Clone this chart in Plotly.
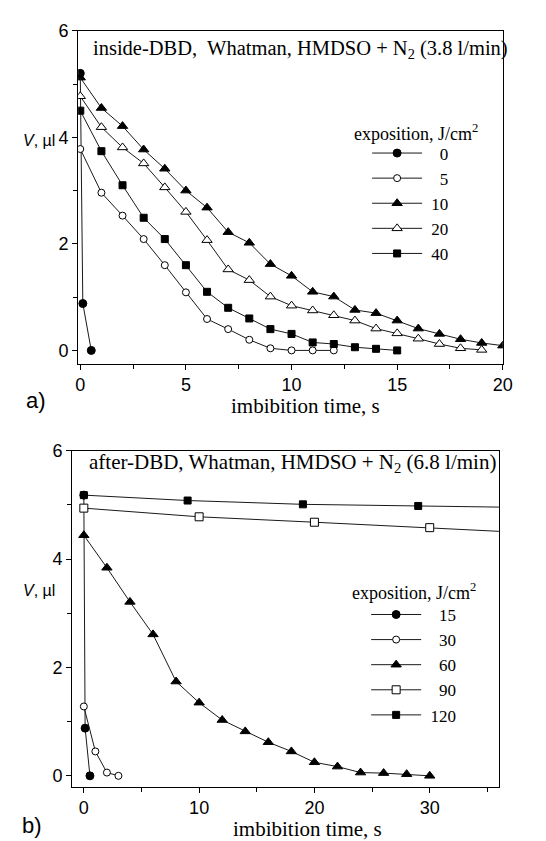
import plotly.graph_objects as go

# ---- panel a) inside-DBD, HMDSO + N2 (3.8 l/min) ----
a_names = ["0", "5", "10", "20", "40"]
a0_t = [0, 0.12, 0.52]
a0_v = [5.2, 0.88, 0.0]
a5_t = [0, 1, 2, 3, 4, 5, 6, 7, 8, 9, 10, 11, 12]
a5_v = [3.78, 2.96, 2.53, 2.09, 1.6, 1.09, 0.59, 0.40, 0.20, 0.04, 0.0, 0.0, 0.0]
a10_t = list(range(0, 21))
a10_v = [5.12, 4.55, 4.21, 3.77, 3.41, 3.0, 2.68, 2.22, 2.02, 1.62, 1.40,
         1.1, 1.01, 0.76, 0.70, 0.56, 0.41, 0.31, 0.21, 0.14, 0.09]
a20_t = list(range(0, 20))
a20_v = [4.77, 4.19, 3.81, 3.51, 3.06, 2.6, 2.07, 1.52, 1.32, 1.01, 0.84,
         0.75, 0.66, 0.56, 0.41, 0.32, 0.22, 0.12, 0.04, 0.01]
a40_t = list(range(0, 16))
a40_v = [4.5, 3.74, 3.1, 2.49, 2.09, 1.6, 1.1, 0.8, 0.6, 0.4, 0.31, 0.15,
         0.12, 0.06, 0.03, 0.0]

# ---- panel b) after-DBD, HMDSO + N2 (6.8 l/min) ----
b_names = ["15", "30", "60", "90", "120"]
b15_t = [0, 0.11, 0.53]
b15_v = [5.18, 0.88, 0.0]
b30_t = [0, 1, 2, 3]
b30_v = [1.28, 0.45, 0.06, 0.0]
b60_t = [0, 2, 4, 6, 8, 10, 12, 14, 16, 18, 20, 22, 24, 26, 28, 30]
b60_v = [4.44, 3.84, 3.21, 2.61, 1.74, 1.35, 1.03, 0.82, 0.62, 0.45, 0.25,
         0.17, 0.06, 0.05, 0.03, 0.0]
b90_t = [0, 10, 20, 30, 40]
b90_v = [4.94, 4.78, 4.68, 4.58, 4.47]
b120_t = [0, 9, 19, 29, 39]
b120_v = [5.18, 5.08, 5.01, 4.98, 4.95]

W, H = 546, 841
SERIF = "Liberation Serif, Times New Roman, serif"
SANS = "Liberation Sans, Arial, sans-serif"
LINE = "#1a1a1a"

def px(x):
    return x / W

def py(y):
    return 1 - y / H

# marker styles: (symbol, fill, size)
styles = {
    "circle_f": ("circle", "black", 8),
    "circle_o": ("circle", "white", 7),
    "tri_f": ("triangle-up", "black", 9),
    "tri_o": ("triangle-up", "white", 9),
    "sq_f": ("square", "black", 7),
    "sq_o": ("square", "white", 8),
}

fig = go.Figure()

def add(t, v, name, style, xa, ya, leg, rank):
    sym, fill, size = styles[style]
    fig.add_trace(go.Scatter(
        x=t, y=v, name=name, mode="lines+markers",
        line=dict(color=LINE, width=1),
        marker=dict(symbol=sym, color=fill, size=size,
                    line=dict(color="black", width=1)),
        xaxis=xa, yaxis=ya, legend=leg, legendrank=rank,
    ))

fs = "\u2007"   # figure space keeps the legend numbers right-aligned
sp = "\u00a0"

# panel a traces (drawing order chosen so overlapping markers stack correctly)
add(a10_t, a10_v, sp + "10", "tri_f", "x", "y", "legend", 3)
add(a0_t, a0_v, sp + fs + "0", "circle_f", "x", "y", "legend", 1)
add(a5_t, a5_v, sp + fs + "5", "circle_o", "x", "y", "legend", 2)
add(a20_t, a20_v, sp + "20", "tri_o", "x", "y", "legend", 4)
add(a40_t, a40_v, sp + "40", "sq_f", "x", "y", "legend", 5)

# panel b traces
add(b120_t, b120_v, sp + "120", "sq_f", "x2", "y2", "legend2", 5)
add(b15_t, b15_v, sp + fs + "15", "circle_f", "x2", "y2", "legend2", 1)
add(b30_t, b30_v, sp + fs + "30", "circle_o", "x2", "y2", "legend2", 2)
add(b60_t, b60_v, sp + fs + "60", "tri_f", "x2", "y2", "legend2", 3)
add(b90_t, b90_v, sp + fs + "90", "sq_o", "x2", "y2", "legend2", 4)

axis_common = dict(
    showline=True, mirror=True, linecolor="black", linewidth=1.3,
    ticks="outside", ticklen=5, tickwidth=1.2, tickcolor="black",
    showgrid=False, zeroline=False,
    tickfont=dict(family=SANS, size=18, color="black"),
)

def minor(step):
    return dict(dtick=step, ticks="outside", ticklen=4, tickwidth=1.2,
                tickcolor="black")

legend_common = dict(
    bgcolor="rgba(0,0,0,0)", borderwidth=0,
    font=dict(family=SERIF, size=17, color="black"),
    itemwidth=50, xanchor="left", yanchor="top",
    tracegroupgap=0,
)

fig.update_layout(
    width=W, height=H,
    margin=dict(l=0, r=0, t=0, b=0),
    paper_bgcolor="white", plot_bgcolor="white",
    showlegend=True,
    xaxis=dict(domain=[px(77), px(512)], range=[-0.1, 20], dtick=5,
               minor=minor(2.5), anchor="y", **axis_common),
    yaxis=dict(domain=[py(358), py(21)], range=[-0.25, 6], dtick=2,
               minor=minor(1), anchor="x", **axis_common),
    xaxis2=dict(domain=[px(71), px(508)], range=[-1, 36], dtick=10,
                minor=minor(5), anchor="y2", **axis_common),
    yaxis2=dict(domain=[py(786), py(446)], range=[-0.2, 6], dtick=2,
                minor=minor(1), anchor="x2", **axis_common),
    legend=dict(x=px(373), y=py(127), **legend_common),
    legend2=dict(x=px(372), y=py(594), **legend_common),
)

def note(text, x, y, size, family=SERIF, xanchor="center"):
    fig.add_annotation(text=text, x=px(x), y=py(y), xref="paper", yref="paper",
                       xanchor=xanchor, yanchor="middle", showarrow=False,
                       font=dict(family=family, size=size, color="black"))

note("inside-DBD,\u00a0 Whatman, HMDSO + N<sub>2</sub> (3.8 l/min)", 305, 40, 20.5)
note("after-DBD, Whatman, HMDSO + N<sub>2</sub> (6.8 l/min)", 297, 458, 21)
note("exposition, J/cm<sup>2</sup>", 357, 124, 18, xanchor="left")
note("exposition, J/cm<sup>2</sup>", 355, 588, 18, xanchor="left")
note("imbibition time, s", 310, 401, 21)
note("imbibition time, s", 312, 829, 21)
note("<i>V</i>, \u00b5l", 37, 132, 16, SANS)
note("<i>V</i>, \u00b5l", 37, 587, 16, SANS)
note("a)", 34, 395, 22, SANS)
note("b)", 30, 825, 22, SANS)

fig.write_html("out.html")
